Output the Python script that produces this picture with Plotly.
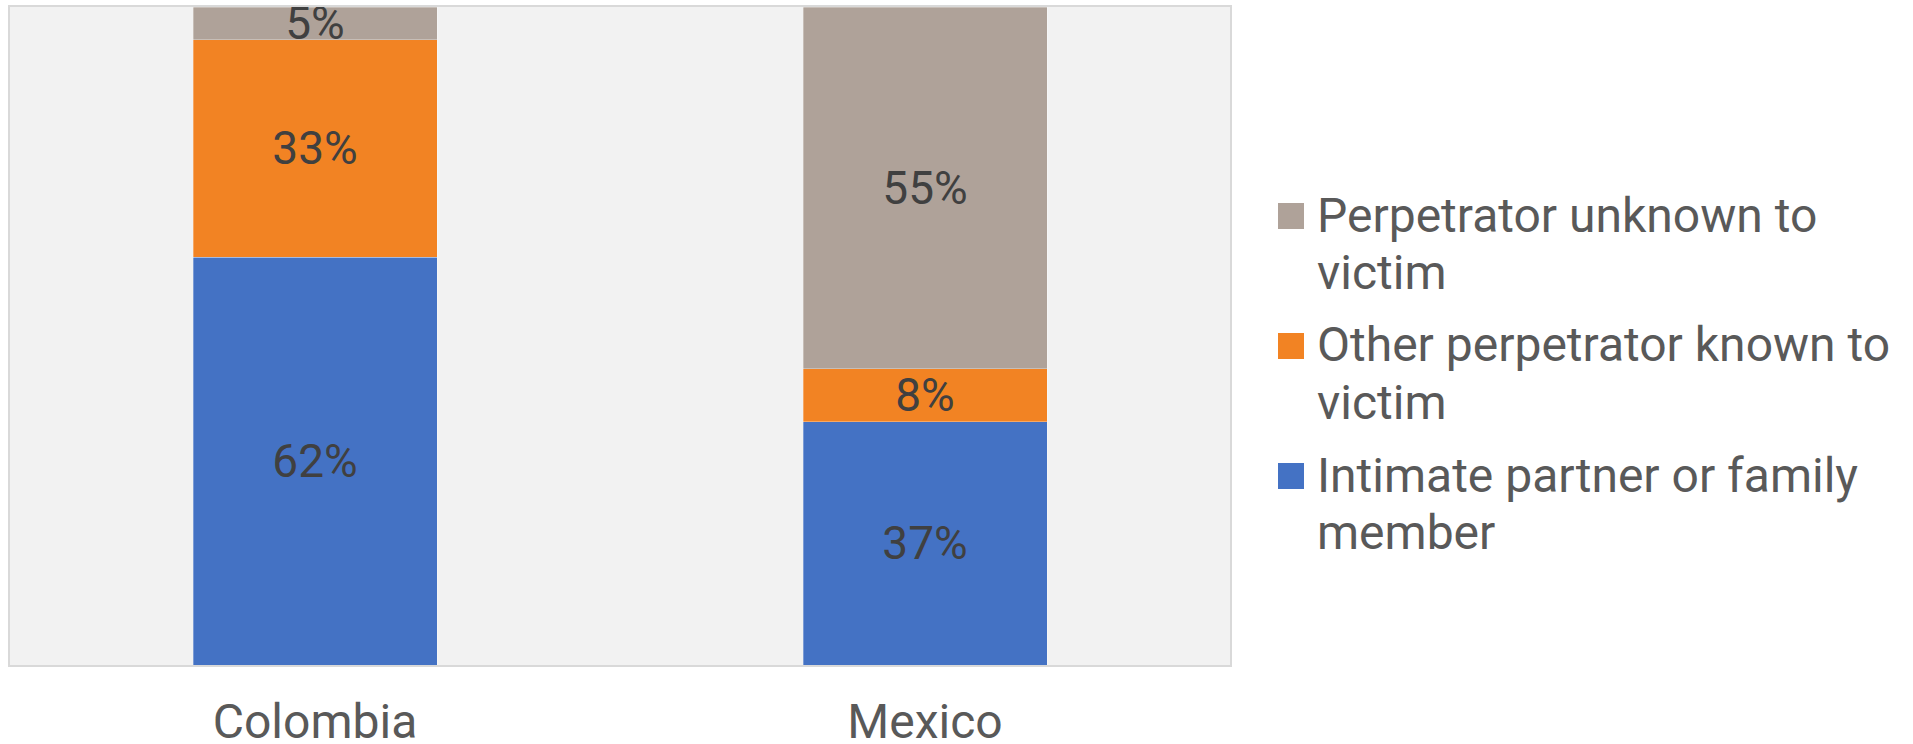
import plotly.graph_objects as go

countries = ["Colombia", "Mexico"]
series_names = [
    "Intimate partner or family<br>member",
    "Other perpetrator known to<br>victim",
    "Perpetrator unknown to<br>victim",
]
intimate = [62, 37]
other_known = [33, 8]
unknown = [5, 55]
colors = ["#4472C4", "#F28323", "#AFA299"]

values = [intimate, other_known, unknown]

W, H = 1913, 744
ML, MR, MT, MB = 10, 683, 7, 79
PW, PH = W - ML - MR, H - MT - MB


def px_x(px):
    return (px - ML) / PW


def px_y(py):
    return (H - MB - py) / PH


fig = go.Figure()
for name, vals, col in zip(series_names, values, colors):
    fig.add_trace(go.Bar(
        x=countries, y=vals, name=name.replace("<br>", " "),
        marker=dict(color=col, line=dict(width=0.6, color="rgba(255,255,255,0.5)")),
        text=[f"{v}%" for v in vals],
        textposition="inside", insidetextanchor="middle",
        textfont=dict(family="Roboto", size=46, color="#404040"),
        cliponaxis=False,
        showlegend=False, hoverinfo="skip",
    ))

# custom legend (top to bottom: unknown, other known, intimate)
shapes = []
annotations = []
entry_top = 203
entry_step = 130
line_step = 57
for i, (name, col) in enumerate(zip(series_names[::-1], colors[::-1])):
    top = entry_top + i * entry_step
    shapes.append(dict(
        type="rect", xref="paper", yref="paper",
        x0=px_x(1278), x1=px_x(1304), y0=px_y(top), y1=px_y(top + 26),
        fillcolor=col, line=dict(width=0),
    ))
    for j, line in enumerate(name.split("<br>")):
        annotations.append(dict(
            text=line, xref="paper", yref="paper",
            x=px_x(1315), y=px_y(top + 12 + j * line_step),
            xanchor="left", yanchor="middle", showarrow=False,
            font=dict(family="Roboto", size=48, color="#595959"),
        ))

fig.update_layout(
    width=W, height=H,
    barmode="stack", bargap=0.6,
    paper_bgcolor="white", plot_bgcolor="#F2F2F2",
    margin=dict(l=ML, r=MR, t=MT, b=MB),
    font=dict(family="Roboto", color="#595959"),
    uniformtext=dict(minsize=46, mode="show"),
    showlegend=False,
    shapes=shapes,
    annotations=annotations,
    xaxis=dict(
        range=[-0.5, 1.5], showgrid=False, zeroline=False,
        showline=True, mirror=True, linecolor="#D9D9D9", linewidth=2,
        ticks="outside", ticklen=13, tickcolor="rgba(0,0,0,0)",
        tickfont=dict(family="Roboto", size=48, color="#595959"),
        automargin=False,
    ),
    yaxis=dict(
        range=[0, 100], showgrid=False, zeroline=False, showticklabels=False,
        showline=True, mirror=True, linecolor="#D9D9D9", linewidth=2,
        automargin=False,
    ),
)

fig.write_html("out.html")
